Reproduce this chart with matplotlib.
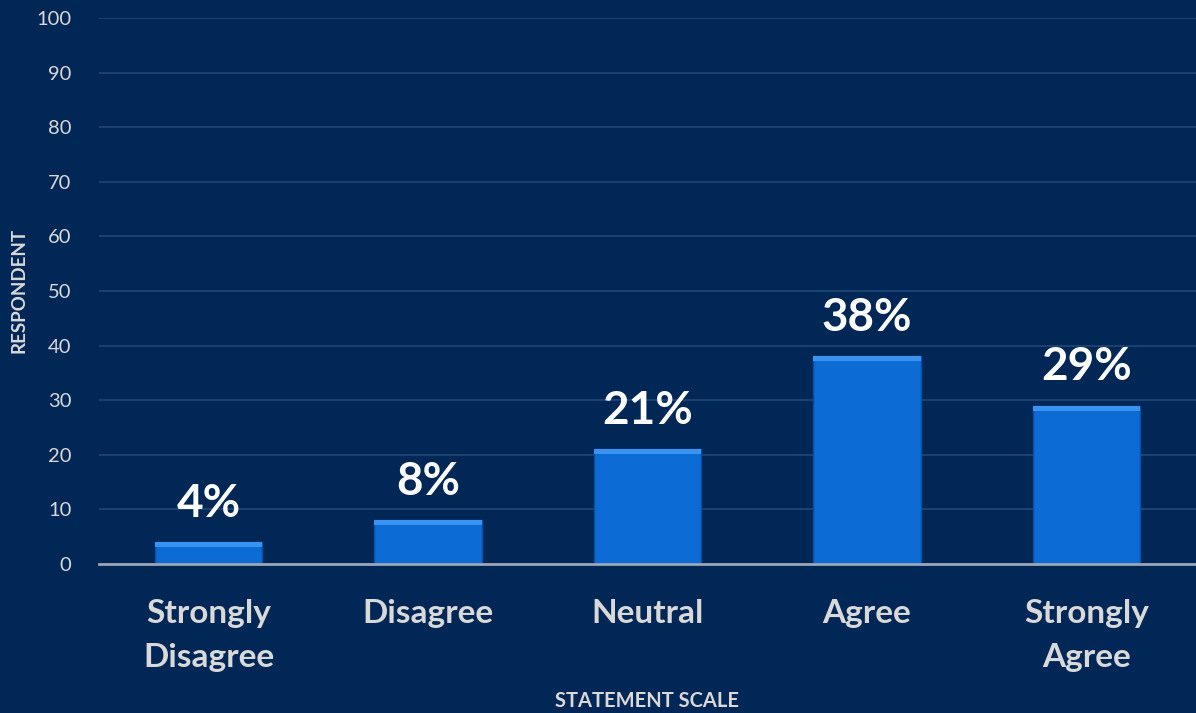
import matplotlib
matplotlib.use("Agg")
import matplotlib.pyplot as plt
import numpy as np

categories = ["Strongly\nDisagree", "Disagree", "Neutral", "Agree", "Strongly\nAgree"]
values = [4, 8, 21, 38, 29]
labels = ["4%", "8%", "21%", "38%", "29%"]
yticks = [0, 10, 20, 30, 40, 50, 60, 70, 80, 90, 100]

BG = "#002756"
BAR = "#0c6bd4"
BAR_TOP = "#3a93f0"
TXT = "#d9d9d9"

plt.rcParams['font.family'] = ['Lato', 'DejaVu Sans']

fig = plt.figure(figsize=(11.96, 7.13), dpi=100)
fig.patch.set_facecolor(BG)
ax = fig.add_axes([0.0828, 0.2090, 0.9172, 0.7658])
ax.set_facecolor(BG)

x = np.arange(len(categories))
w = 0.49
ax.bar(x, values, width=w, color=BAR, edgecolor="#0a4f9e", linewidth=1.0, zorder=3)
# bevel highlight on top of each bar
ax.bar(x, [0.9] * len(values), bottom=[v - 0.9 for v in values], width=w,
       color=BAR_TOP, linewidth=0, zorder=4)

for xi, v, lab in zip(x, values, labels):
    ax.text(xi, v + 3.2, lab, ha="center", va="bottom", color="white",
            fontsize=33, fontweight="bold", zorder=5)

ax.set_xlim(-0.5, 4.5)
ax.set_ylim(0, 100)
ax.set_yticks(yticks)
ax.set_yticklabels([str(t) for t in yticks], color=TXT, fontsize=14.5)
ax.set_xticks(x)
ax.set_xticklabels(categories, color=TXT, fontsize=24, fontweight="bold", linespacing=1.65)
ax.tick_params(axis="y", length=0, pad=20)
ax.tick_params(axis="x", length=0, pad=25)
ax.yaxis.grid(True, color="#1d4574", linewidth=1.3, zorder=0)
ax.set_axisbelow(True)
for s in ["top", "right", "left"]:
    ax.spines[s].set_visible(False)
ax.spines["bottom"].set_color("#9ba6b8")
ax.spines["bottom"].set_linewidth(2)
ax.spines["bottom"].set_zorder(6)

fig.text(0.541, 0.003, "STATEMENT SCALE", color=TXT, fontsize=14.5, fontweight="bold",
         ha="center", va="bottom")
fig.text(0.016, 0.592, "RESPONDENT", color=TXT, fontsize=13.5, fontweight="bold",
         rotation=90, ha="center", va="center")

fig.savefig("out.png", dpi=100, facecolor=BG)
